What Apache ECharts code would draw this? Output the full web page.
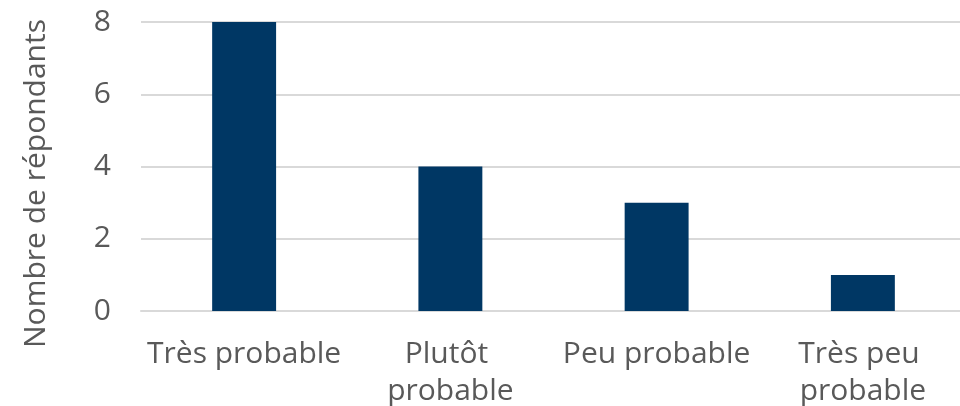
<!DOCTYPE html>
<html>
<head>
<meta charset="utf-8">
<script src="https://cdn.jsdelivr.net/npm/echarts@6/dist/echarts.min.js"></script>
<style>
  html, body { margin: 0; padding: 0; background: #ffffff; }
  #chart { width: 960px; height: 406px; }
</style>
</head>
<body>
<div id="chart"></div>
<script>
// categories et valeurs
var categories = ['Très probable', 'Plutôt probable', 'Peu probable', 'Très peu probable'];
var values = [8, 4, 3, 1];
var yTicks = [0, 2, 4, 6, 8];

var chart = echarts.init(document.getElementById('chart'), null, { renderer: 'canvas' });

var labelFont = 'Open Sans';

var option = {
  backgroundColor: '#ffffff',
  animation: false,
  textStyle: { fontFamily: labelFont },
  grid: { left: 141, width: 825, top: 22, bottom: 95, outerBoundsMode: 'none', containLabel: false },
  xAxis: {
    type: 'category',
    data: categories,
    axisLine: { show: true, lineStyle: { color: '#d9d9d9', width: 2 } },
    axisTick: { show: false },
    axisLabel: {
      color: '#595959',
      fontSize: 30,
      fontFamily: labelFont,
      margin: 25,
      lineHeight: 37,
      width: 222,
      overflow: 'break',
      interval: 0
    }
  },
  yAxis: {
    type: 'value',
    min: yTicks[0],
    max: yTicks[yTicks.length - 1],
    interval: 2,
    name: 'Nombre de répondants',
    nameLocation: 'middle',
    nameGap: 90,
    nameTextStyle: { color: '#595959', fontSize: 30, fontFamily: labelFont, padding: [0, 34, 0, 0] },
    axisLine: { show: false },
    axisTick: { show: false },
    axisLabel: { color: '#595959', fontSize: 30, fontFamily: labelFont, margin: 30 },
    splitLine: { lineStyle: { color: '#d9d9d9', width: 2 } }
  },
  series: [{
    type: 'bar',
    data: values,
    barWidth: '31%',
    itemStyle: { color: '#003764' }
  }]
};

chart.setOption(option);
</script>
</body>
</html>
